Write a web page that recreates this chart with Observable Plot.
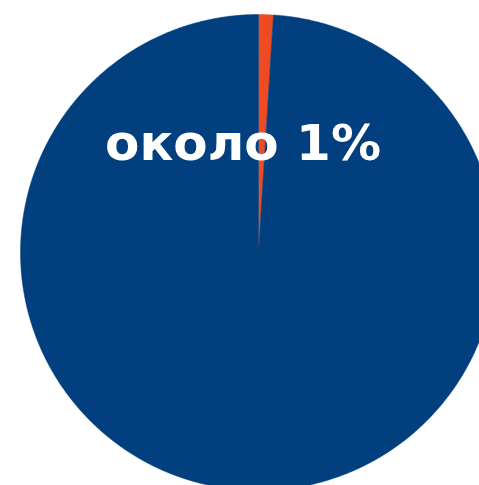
<!DOCTYPE html>
<html>
<head>
<meta charset="utf-8">
<script src="https://cdn.jsdelivr.net/npm/d3@7"></script>
<script src="https://cdn.jsdelivr.net/npm/@observablehq/plot@0.6"></script>
<style>
  html, body { margin: 0; padding: 0; background: #fff; overflow: hidden; }
  svg { overflow: hidden; }
</style>
</head>
<body>
<div id="chart"></div>
<script>
const categories = ["около 1%", "остальное"];
const values = [1, 99];
const colors = ["#ef4b22", "#013f7e"];
const labelText = "около 1%";

const pie = d3.pie().sort(null).value(d => d.value);
const arcs = pie(categories.map((c, i) => ({category: c, value: values[i], color: colors[i]})));

// Build slice outlines (polygon points) from pie angles
const pts = [];
for (const a of arcs) {
  const n = Math.max(4, Math.ceil((a.endAngle - a.startAngle) / 0.005));
  pts.push({cat: a.data.category, color: a.data.color, x: 0, y: 0});
  for (let k = 0; k <= n; k++) {
    const t = a.startAngle + (a.endAngle - a.startAngle) * k / n;
    pts.push({cat: a.data.category, color: a.data.color, x: Math.sin(t), y: Math.cos(t)});
  }
  pts.push({cat: a.data.category, color: a.data.color, x: 0, y: 0});
}

const W = 479, H = 485;
const plot = Plot.plot({
  width: W,
  height: H,
  margin: 0,
  x: {domain: [-1, 1], range: [20, 496], axis: null},
  y: {domain: [-1, 1], range: [490, 14], axis: null},
  color: {type: "identity"},
  marks: [
    Plot.line(pts, {x: "x", y: "y", z: "cat", fill: "color", stroke: "color", strokeWidth: 0.5, curve: "linear"}),
    Plot.text([labelText], {
      x: () => -0.065, y: () => 0.455, text: d => d,
      fill: "white", fontSize: 50, fontWeight: "bold",
      fontFamily: "DejaVu Sans", textAnchor: "middle", lineAnchor: "middle"
    })
  ]
});
document.getElementById("chart").appendChild(plot);
</script>
</body>
</html>
